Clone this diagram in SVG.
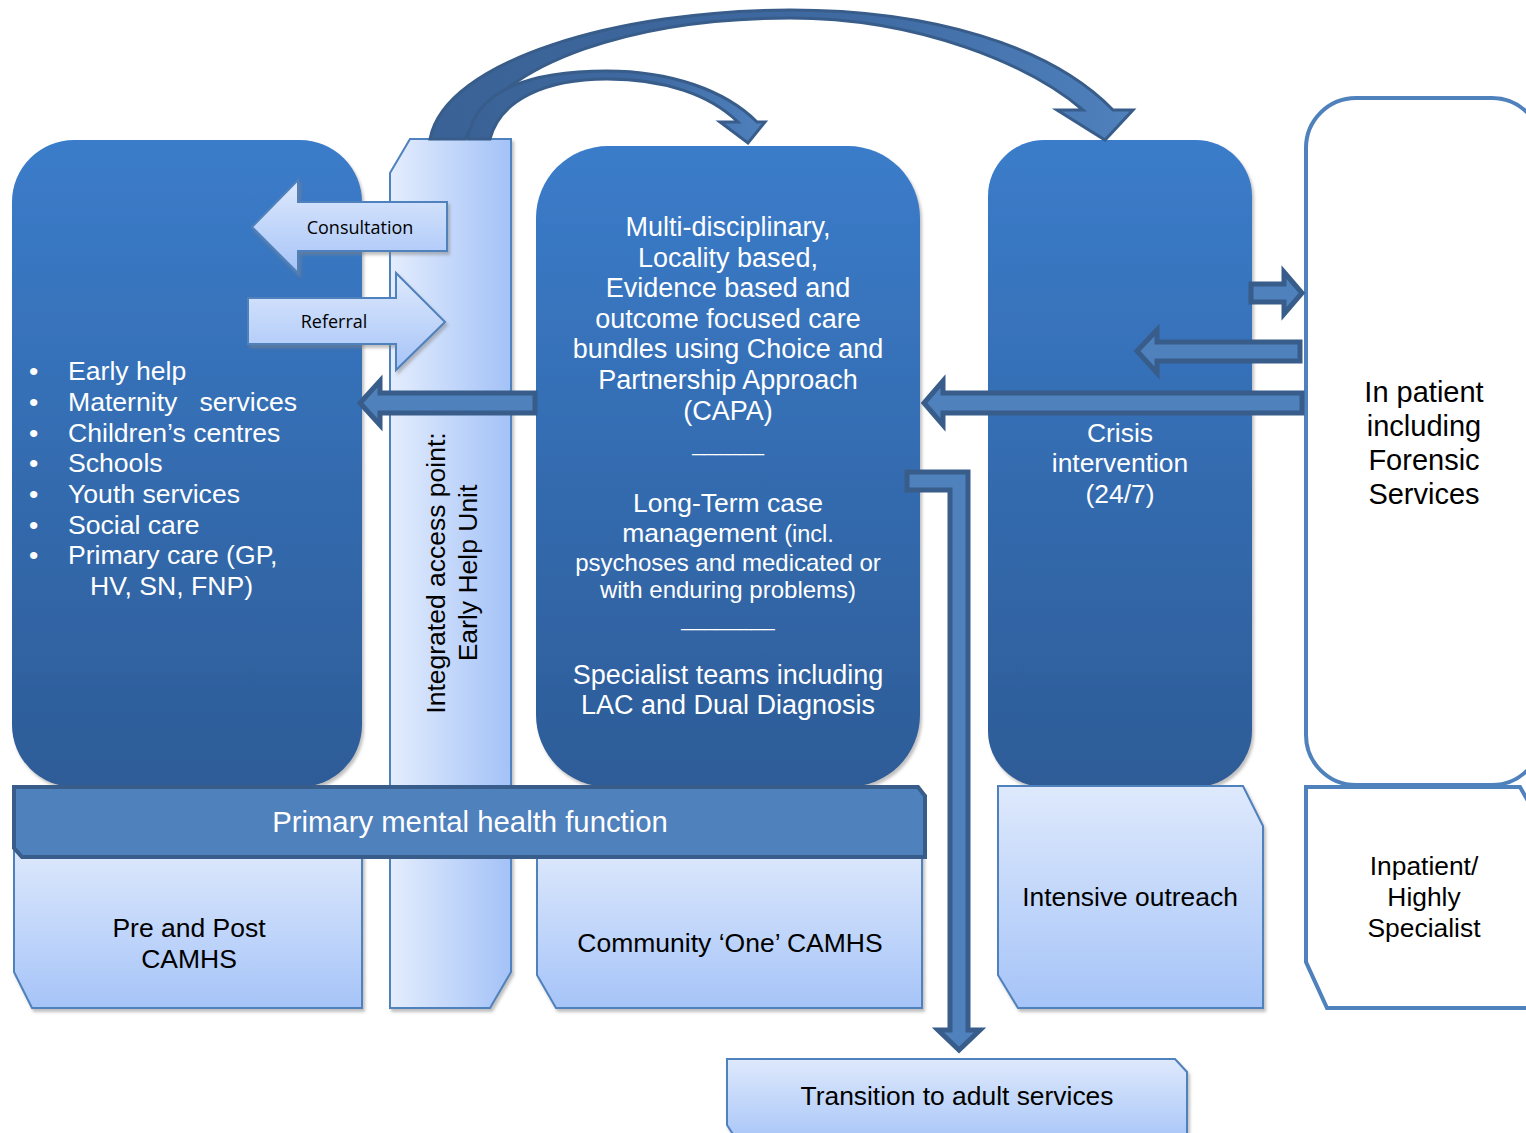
<svg xmlns="http://www.w3.org/2000/svg" width="1526" height="1133" viewBox="0 0 1526 1133">
<defs>
  <linearGradient id="dark" x1="0" y1="0" x2="0" y2="1">
    <stop offset="0" stop-color="#3B7CCA"/>
    <stop offset="1" stop-color="#2D5C97"/>
  </linearGradient>
  <linearGradient id="light" x1="0" y1="0" x2="0" y2="1">
    <stop offset="0" stop-color="#DEE9FC"/>
    <stop offset="1" stop-color="#A6C4F8"/>
  </linearGradient>
  <linearGradient id="lightH" x1="0" y1="0" x2="1" y2="0">
    <stop offset="0" stop-color="#E4EDFD"/>
    <stop offset="1" stop-color="#A3C2F7"/>
  </linearGradient>
  <linearGradient id="curve" x1="0" y1="0" x2="1" y2="0">
    <stop offset="0" stop-color="#3A6296"/>
    <stop offset="0.6" stop-color="#3F6AA2"/>
    <stop offset="1" stop-color="#4F81BD"/>
  </linearGradient>
  <filter id="sh" x="-5%" y="-5%" width="115%" height="115%">
    <feDropShadow dx="2" dy="3" stdDeviation="1.5" flood-color="#808080" flood-opacity="0.5"/>
  </filter>
  <style>
    .t{font-family:"Liberation Sans",Arial,sans-serif;}
    .w{fill:#FFFFFF;}
    .k{fill:#000000;}
    .dark{fill:url(#dark);filter:url(#sh);}
    .lt{fill:url(#light);stroke:#4F81BD;stroke-width:2;filter:url(#sh);}
    .arr{fill:#4F81BD;stroke:#385D8A;stroke-width:5;stroke-linejoin:miter;}
    .carr{fill:url(#curve);stroke:#385D8A;stroke-width:3;}
    .larr{fill:url(#light);stroke:#4F81BD;stroke-width:2;filter:url(#sh);}
    .c{text-anchor:middle;}
  </style>
</defs>
<rect width="1526" height="1133" fill="#FFFFFF"/>

<g id="left-services">
  <rect class="dark" x="12" y="140" width="350" height="647" rx="62" ry="62"/>
  <g class="t w" font-size="26.6">
    <text x="29" y="380">•</text>
    <text x="68" y="380">Early help</text>
    <text x="29" y="411">•</text>
    <text x="68" y="411" xml:space="preserve">Maternity   services</text>
    <text x="29" y="442">•</text>
    <text x="68" y="442">Children’s centres</text>
    <text x="29" y="472">•</text>
    <text x="68" y="472">Schools</text>
    <text x="29" y="503">•</text>
    <text x="68" y="503">Youth services</text>
    <text x="29" y="534">•</text>
    <text x="68" y="534">Social care</text>
    <text x="29" y="564">•</text>
    <text x="68" y="564">Primary care (GP,</text>
    <text x="90" y="595">HV, SN, FNP)</text>
  </g>
</g>

<g id="capa">
  <rect class="dark" x="536" y="146" width="384" height="641" rx="72" ry="72"/>
  <g class="t w c" font-size="27">
    <text x="728" y="236">Multi-disciplinary,</text>
    <text x="728" y="267">Locality based,</text>
    <text x="728" y="297">Evidence based and</text>
    <text x="728" y="328">outcome focused care</text>
    <text x="728" y="358">bundles using Choice and</text>
    <text x="728" y="389">Partnership Approach</text>
    <text x="728" y="420">(CAPA)</text>
    <text x="728" y="451" font-size="21.5">______</text>
    <text x="728" y="512" font-size="26.5">Long-Term case</text>
    <text x="728" y="542" font-size="26.5">management <tspan font-size="23.5">(incl.</tspan></text>
    <text x="728" y="571" font-size="24">psychoses and medicated or</text>
    <text x="728" y="598" font-size="24">with enduring problems)</text>
    <text x="728" y="626" font-size="21">________</text>
    <text x="728" y="684">Specialist teams including</text>
    <text x="728" y="714">LAC and Dual Diagnosis</text>
  </g>
</g>

<g id="crisis">
  <rect class="dark" x="988" y="140" width="264" height="647" rx="56" ry="56"/>
  <g class="t w c" font-size="26.4">
    <text x="1120" y="442">Crisis</text>
    <text x="1120" y="472">intervention</text>
    <text x="1120" y="503">(24/7)</text>
  </g>
</g>

<g id="inpatient-forensic">
  <rect x="1306" y="98" width="236" height="687" rx="50" ry="50" fill="#FFFFFF" stroke="#4F81BD" stroke-width="4"/>
  <g class="t k c" font-size="29">
    <text x="1424" y="402">In patient</text>
    <text x="1424" y="436">including</text>
    <text x="1424" y="470">Forensic</text>
    <text x="1424" y="504">Services</text>
  </g>
</g>

<g id="inpatient-highly">
  <polygon points="1306,787 1520,787 1540,822 1540,1008 1327,1008 1306,962" fill="#FFFFFF" stroke="#4F81BD" stroke-width="4"/>
  <g class="t k c" font-size="26.4">
    <text x="1424" y="875">Inpatient/</text>
    <text x="1424" y="906">Highly</text>
    <text x="1424" y="937">Specialist</text>
  </g>
</g>

<g id="integrated-access">
  <polygon class="lt" style="fill:url(#lightH)" points="410,139 511,139 511,972 490,1008 390,1008 390,173"/>
  <g class="t k c" font-size="26.5">
    <text transform="translate(445,573) rotate(-90)">Integrated access point:</text>
    <text transform="translate(477,573) rotate(-90)">Early Help Unit</text>
  </g>
</g>

<g id="pre-post">
  <polygon class="lt" points="14,845 362,845 362,1008 32,1008 14,972"/>
  <g class="t k c" font-size="26.5">
    <text x="189" y="937">Pre and Post</text>
    <text x="189" y="968">CAMHS</text>
  </g>
</g>

<g id="community">
  <polygon class="lt" points="537,845 922,845 922,1008 556,1008 537,975"/>
  <text class="t k c" x="730" y="952" font-size="26.5">Community ‘One’ CAMHS</text>
</g>

<g id="intensive">
  <polygon class="lt" points="998,786 1243,786 1263,826 1263,1008 1018,1008 998,975"/>
  <text class="t k c" x="1130" y="906" font-size="26.4">Intensive outreach</text>
</g>

<g id="transition">
  <polygon class="lt" points="727,1059 1175,1059 1187,1072 1187,1145 740,1145 727,1125"/>
  <text class="t k c" x="957" y="1105" font-size="26.4">Transition to adult services</text>
</g>

<g id="primary-mh">
  <polygon points="14,787 918,787 925,796 925,857 22,857 14,848" fill="#4F81BD" stroke="#385D8A" stroke-width="4"/>
  <text class="t w c" x="470" y="832" font-size="29.3">Primary mental health function</text>
</g>

<g id="connectors">
  <path class="carr" d="M430,139 C445,60 620,10 790,10 C930,10 1050,45 1113,110 L1133,110 L1105,140 L1057,110 L1083,110 C1030,65 920,18 790,18 C640,18 500,60 465,139 Z"/>
  <path class="carr" d="M468,139 C475,90 530,71 607,71 C670,71 725,90 757,122 L765,122 L748,143 L720,122 L738,122 C710,95 665,79 607,79 C545,79 500,100 490,139 Z"/>

  <g id="consultation">
    <polygon class="larr" points="252,227 298,180 298,202 447,202 447,251 298,251 298,273"/>
    <text x="360" y="234" font-family="'Open Sans',Lato,sans-serif" font-size="18" text-anchor="middle" fill="#000">Consultation</text>
  </g>
  <g id="referral">
    <polygon class="larr" points="248,298 396,298 396,273 445,322 396,370 396,344 248,344"/>
    <text x="334" y="328" font-family="'Open Sans',Lato,sans-serif" font-size="18" text-anchor="middle" fill="#000">Referral</text>
  </g>

  <polygon class="arr" points="535,393 380,393 380,381 360,403 380,425 380,413 535,413"/>
  <polygon class="arr" points="1302,393 943,393 943,381 924,403 943,425 943,413 1302,413"/>
  <polygon class="arr" points="1300,342 1157,342 1157,330 1137,351 1157,373 1157,361 1300,361"/>
  <polygon class="arr" points="1251,284 1284,284 1284,272 1302,293 1284,314 1284,302 1251,302"/>
  <polygon class="arr" points="907,472 968,472 968,1030 980,1030 959,1050 938,1030 950,1030 950,490 907,490"/>
</g>
</svg>
